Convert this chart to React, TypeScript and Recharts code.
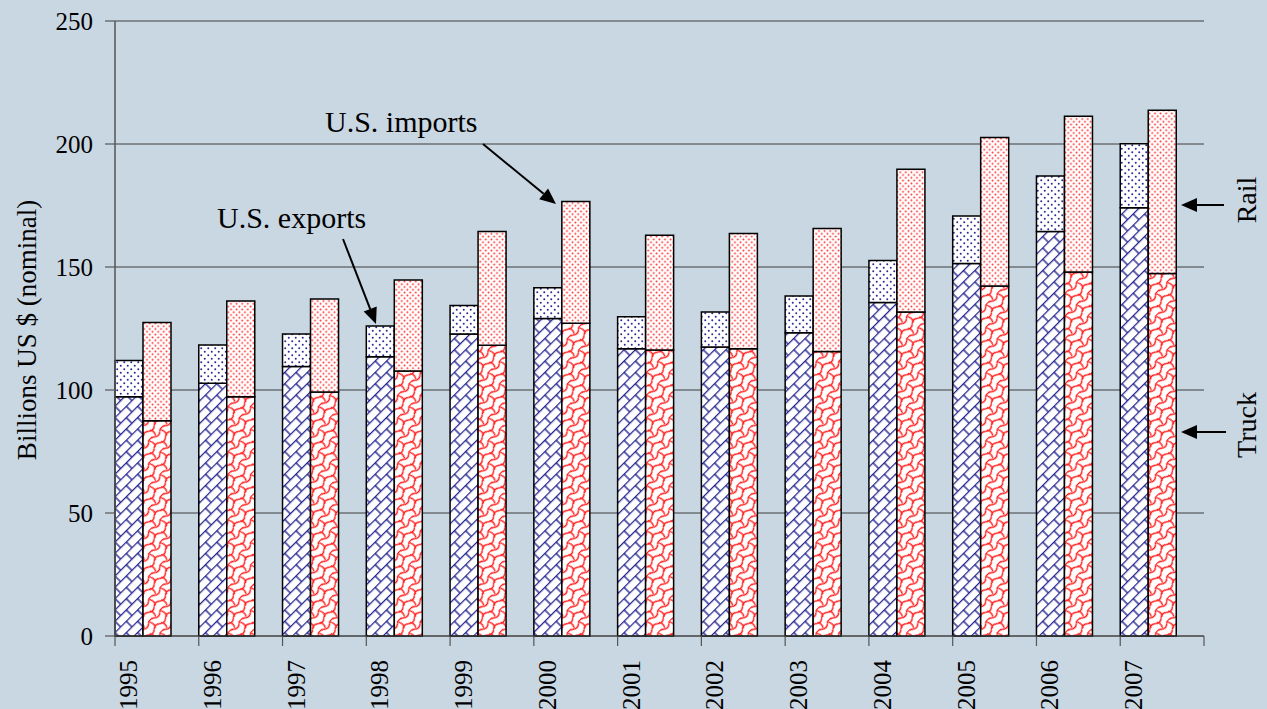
import { BarChart, Bar, XAxis, YAxis, CartesianGrid } from 'recharts'

// Billions of US $ (nominal), by year and by mode
const years = ['1995', '1996', '1997', '1998', '1999', '2000', '2001', '2002', '2003', '2004', '2005', '2006', '2007']
const exportTruck = [97.3, 102.7, 109.6, 113.5, 122.8, 129.1, 116.8, 117.5, 123.3, 135.6, 151.4, 164.4, 174.1]
const exportRail = [14.7, 15.6, 13.2, 12.5, 11.6, 12.5, 13.0, 14.2, 14.9, 17.0, 19.3, 22.6, 26.0]
const importTruck = [87.5, 97.3, 99.2, 107.7, 118.2, 127.1, 116.3, 116.8, 115.6, 131.7, 142.3, 148.0, 147.4]
const importRail = [39.9, 38.9, 37.8, 37.0, 46.2, 49.5, 46.6, 46.8, 50.0, 58.0, 60.3, 63.3, 66.3]
const yTicks = [0, 50, 100, 150, 200, 250]

const data = years.map((year, i) => ({
  year,
  exportTruck: exportTruck[i],
  exportRail: exportRail[i],
  importTruck: importTruck[i],
  importRail: importRail[i],
}))

const W = 1267
const H = 709
const LEFT = 115
const RIGHT = 1204
const TOP = 21
const BOTTOM = 636
const BAND = (RIGHT - LEFT) / years.length
const FONT = "'Liberation Serif', 'Times New Roman', serif"
const BG = '#c9d7e3'

// year labels sit at the left edge of each category, like the tick marks
function YearTick(props: any) {
  const { x, y, payload, index } = props
  const left = x - BAND / 2
  const bx = left + 22
  const ty = y + 24
  return (
    <g>
      <line x1={left} y1={y} x2={left} y2={y + 10} stroke="#555" strokeWidth={1.2} />
      {index === years.length - 1 && (
        <line x1={left + BAND} y1={y} x2={left + BAND} y2={y + 10} stroke="#555" strokeWidth={1.2} />
      )}
      <text
        x={bx}
        y={ty}
        transform={`rotate(-90, ${bx}, ${ty})`}
        textAnchor="end"
        style={{ fontFamily: FONT, fontSize: 25 }}
        fill="#000"
      >
        {payload.value}
      </text>
    </g>
  )
}

function Patterns() {
  return (
    <defs>
      <pattern id="truckBlue" width="16" height="16" patternUnits="userSpaceOnUse" patternTransform="rotate(-45)">
        <rect width="16" height="16" fill="#fff" />
        <path d="M0 0.6H16 M0 8.6H16 M2 0.6V8.6 M10 8.6V16.6" stroke="#23238f" strokeWidth="1.4" fill="none" />
      </pattern>
      <pattern id="truckRed" width="16" height="16" patternUnits="userSpaceOnUse" patternTransform="rotate(-45)">
        <rect width="16" height="16" fill="#fff" />
        <path
          d="M0 2 Q4 -1.5 8 2 T16 2 M0 10 Q4 6.5 8 10 T16 10 M2 2 Q4.5 6 2 10 M10 10 Q12.5 14 10 18 M10 -6 Q12.5 -2 10 2"
          stroke="#ff1a1a"
          strokeWidth="1.4"
          fill="none"
        />
      </pattern>
      <pattern id="railBlue" width="7" height="7" patternUnits="userSpaceOnUse">
        <rect width="7" height="7" fill="#fff" />
        <circle cx="1.75" cy="1.75" r="1" fill="#2a2a96" />
        <circle cx="5.25" cy="5.25" r="1" fill="#2a2a96" />
      </pattern>
      <pattern id="railRed" width="5.6" height="5.6" patternUnits="userSpaceOnUse">
        <rect width="5.6" height="5.6" fill="#fff" />
        <circle cx="1.4" cy="1.4" r="0.95" fill="#ff2a2a" />
        <circle cx="4.2" cy="4.2" r="0.95" fill="#ff2a2a" />
      </pattern>
    </defs>
  )
}

// straight callout arrow with a filled head at (x2, y2)
function Arrow({ x1, y1, x2, y2 }: { x1: number; y1: number; x2: number; y2: number }) {
  const len = Math.hypot(x2 - x1, y2 - y1)
  const ux = (x2 - x1) / len
  const uy = (y2 - y1) / len
  const headL = 16
  const headW = 7
  const bx = x2 - ux * headL
  const by = y2 - uy * headL
  const pts = `${x2},${y2} ${bx - uy * headW},${by + ux * headW} ${bx + uy * headW},${by - ux * headW}`
  return (
    <g>
      <line x1={x1} y1={y1} x2={bx} y2={by} stroke="#000" strokeWidth={2} />
      <polygon points={pts} fill="#000" />
    </g>
  )
}

// callout arrows and labels on top of the plot
function Annotations() {
  const text = (size: number) => ({ fontFamily: FONT, fontSize: size })
  return (
    <svg width={W} height={H} style={{ position: 'absolute', left: 0, top: 0, pointerEvents: 'none' }}>
      <text x={36} y={330} transform="rotate(-90, 36, 330)" textAnchor="middle" style={text(27)} fill="#000">
        Billions US $ (nominal)
      </text>
      <text x={325} y={132} style={text(30)} fill="#000">U.S. imports</text>
      <Arrow x1={483} y1={144} x2={556} y2={204} />
      <text x={217} y={228} style={text(30)} fill="#000">U.S. exports</text>
      <Arrow x1={343} y1={239} x2={376} y2={324} />
      <Arrow x1={1224} y1={205} x2={1181} y2={205} />
      <text x={1256} y={200} transform="rotate(-90, 1256, 200)" textAnchor="middle" style={text(28)} fill="#000">Rail</text>
      <Arrow x1={1226} y1={432} x2={1181} y2={432} />
      <text x={1256} y={425} transform="rotate(-90, 1256, 425)" textAnchor="middle" style={text(28)} fill="#000">Truck</text>
    </svg>
  )
}

export default function App() {
  return (
    <div style={{ position: 'absolute', left: 0, top: 0, width: W, height: H, background: BG, fontFamily: FONT }}>
      <BarChart
        width={W}
        height={H}
        data={data}
        margin={{ top: TOP, right: W - RIGHT, left: 0, bottom: 0 }}
        barCategoryGap={0}
        barGap={0}
        style={{ fontFamily: FONT }}
      >
        <Patterns />
        <CartesianGrid vertical={false} stroke="#3c3c3c" strokeWidth={1} />
        <XAxis
          dataKey="year"
          height={H - BOTTOM}
          interval={0}
          tickSize={0}
          tickMargin={0}
          tick={<YearTick />}
          axisLine={{ stroke: '#444', strokeWidth: 1.2 }}
        />
        <YAxis
          width={LEFT}
          domain={[0, 250]}
          ticks={yTicks}
          interval={0}
          tickSize={10}
          tickMargin={12}
          axisLine={{ stroke: '#555', strokeWidth: 1.5 }}
          tickLine={{ stroke: '#555', strokeWidth: 1.2 }}
          tick={{ style: { fontFamily: FONT, fontSize: 25 }, fill: '#000' }}
        />
        <Bar dataKey="exportTruck" stackId="exports" fill="url(#truckBlue)" stroke="#000" strokeWidth={1.5} isAnimationActive={false} />
        <Bar dataKey="exportRail" stackId="exports" fill="url(#railBlue)" stroke="#000" strokeWidth={1.5} isAnimationActive={false} />
        <Bar dataKey="importTruck" stackId="imports" fill="url(#truckRed)" stroke="#000" strokeWidth={1.5} isAnimationActive={false} />
        <Bar dataKey="importRail" stackId="imports" fill="url(#railRed)" stroke="#000" strokeWidth={1.5} isAnimationActive={false} />
        {/* empty third slot keeps each pair at the left of its category */}
        <Bar dataKey="spacer" stackId="spacer" fill="none" isAnimationActive={false} />
      </BarChart>
      <Annotations />
    </div>
  )
}
